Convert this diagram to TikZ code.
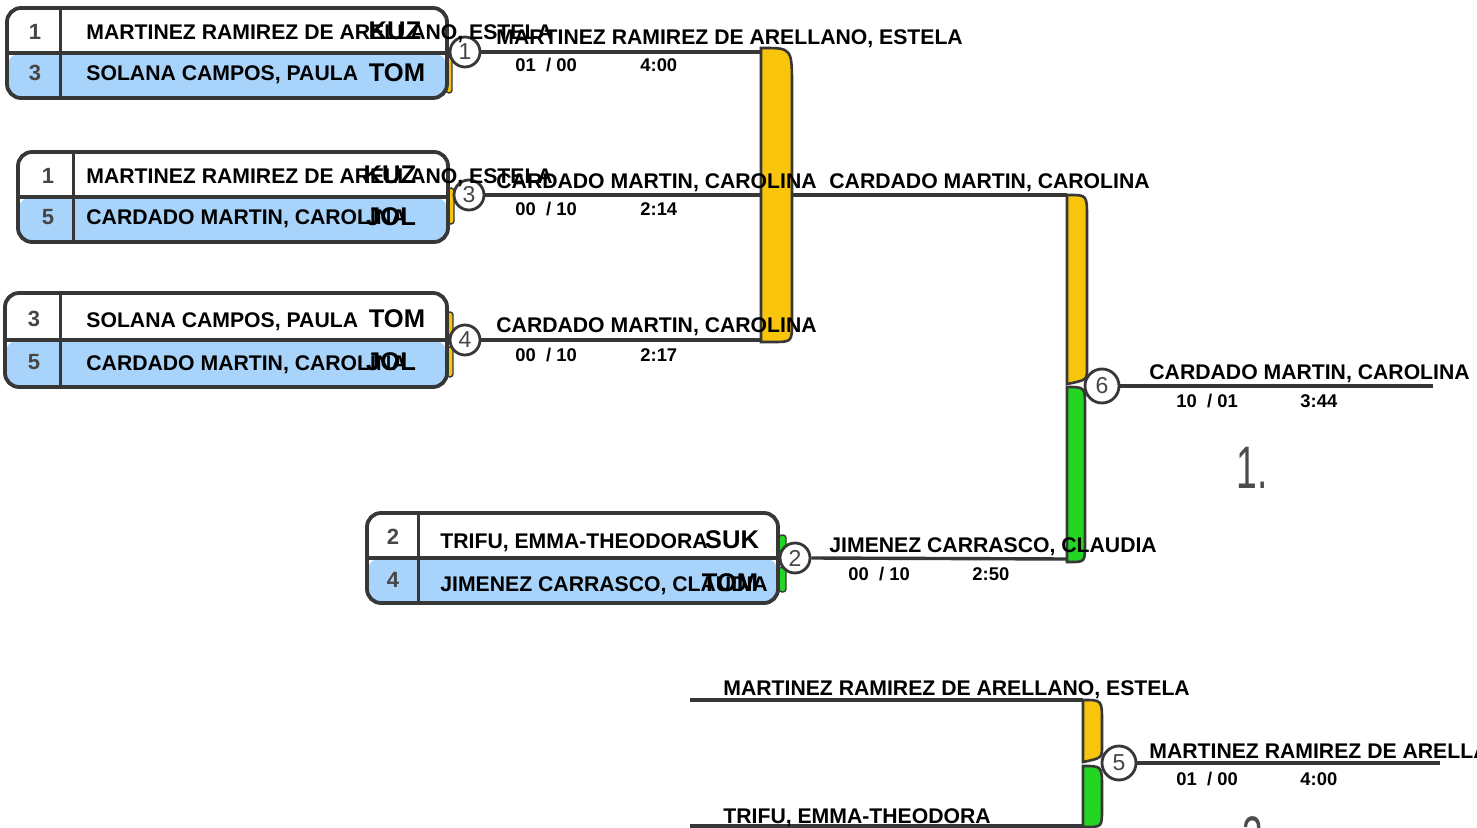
\documentclass[tikz,border=0pt]{standalone}
\usepackage{fontspec}
\setmainfont{Liberation Sans}
\newfontfamily\thinfont[FakeStretch=0.62]{Liberation Sans}
\usetikzlibrary{positioning, backgrounds}
\definecolor{lineclr}{RGB}{55,55,55}
\definecolor{rowblue}{RGB}{168,211,250}
\definecolor{winyellow}{RGB}{248,196,12}
\definecolor{wingreen}{RGB}{34,214,34}
\definecolor{seedgray}{RGB}{70,70,70}

\begin{document}
\begin{tikzpicture}[x=0.5pt, y=-0.5pt,
  matchbox/.style={draw=lineclr, line width=1.9pt, rounded corners=7pt, fill=white,
                   inner sep=0pt, minimum height=45pt,
                   path picture={\fill[rowblue] (path picture bounding box.west)
                     rectangle (path picture bounding box.south east);}},
  rowline/.style={draw=lineclr, line width=1.6pt},
  conn/.style={draw=lineclr, line width=1.7pt},
  barfill/.style={draw=lineclr, line width=1.3pt},
  tab/.style={draw=lineclr, line width=0.7pt, rounded corners=1.5pt},
  bout/.style={circle, draw=lineclr, line width=1.4pt, fill=white, minimum size=15pt,
               inner sep=0pt, font=\fontsize{11.5}{12}\selectfont, text=seedgray},
  seed/.style={font=\bfseries\fontsize{11}{12}\selectfont, text=seedgray,
               inner sep=0pt, text height=7.8pt, text depth=0pt},
  pname/.style={font=\bfseries\fontsize{10.6}{12}\selectfont, inner sep=0pt,
                text height=7.6pt, text depth=0pt, anchor=west},
  club/.style={font=\bfseries\fontsize{12.8}{14}\selectfont, inner sep=0pt,
               text height=9.2pt, text depth=0pt},
  score/.style={font=\bfseries\fontsize{9.2}{11}\selectfont, inner sep=0pt,
                text height=6.6pt, text depth=0pt, anchor=west},
  rank/.style={font=\thinfont\fontsize{30}{32}\selectfont, text=black!70, inner sep=0pt}
]
  \path[use as bounding box] (0,0) rectangle (1477,828);
  % Bout circles
  \node[bout] (m1) at (465,52) {1};
  \node[bout] (m3) at (469,195) {3};
  \node[bout] (m4) at (465,340) {4};
  \node[bout] (m2) at (795,558) {2};
  \node[bout, minimum size=17pt] (m6) at (1102,386) {6};
  \node[bout, minimum size=17pt] (m5) at (1119,763) {5};
  % Joints on the bars
  \coordinate (j1) at (761,52);
  \coordinate (j4) at (761,340);
  \coordinate (j3) at (1067,195);
  \coordinate (j2) at (1067,559);
  \coordinate (out6) at (1433,386);
  \coordinate (out5) at (1440,763);
  \coordinate (in5a) at (690,700);
  \coordinate (j5a) at (1083,700);
  \coordinate (in5b) at (690,826);
  \coordinate (j5b) at (1083,826);

  \begin{scope}[on background layer]
    \fill[white] (0,0) rectangle (1477,828);
    % Connectors
    \draw[conn] (m1.east) -- (j1);
    \draw[conn] (m3.east) -- (j3);
    \draw[conn] (m4.east) -- (j4);
    \draw[conn] (m2.east) -- (j2);
    \draw[conn] (m6.east) -- (out6);
    \draw[conn] (m5.east) -- (out5);
    \draw[conn] (in5a) -- (j5a);
    \draw[conn] (in5b) -- (j5b);
    % Winner bars
    \filldraw[barfill, fill=winyellow] (761,342) -- (761,48) -- (763,48)
      .. controls (792,48) .. (792,88) -- (792,322) .. controls (792,342) .. (772,342) -- cycle;
    \filldraw[barfill, fill=winyellow] (1067,384) -- (1067,195) -- (1069,195)
      .. controls (1087,195) .. (1087,218) -- (1087,368) .. controls (1087,380) .. (1067,384) -- cycle;
    \filldraw[barfill, fill=wingreen] (1067,387) .. controls (1085,387) .. (1085,408)
      -- (1085,544) .. controls (1085,562) .. (1070,562) -- (1067,562) -- cycle;
    \filldraw[barfill, fill=winyellow] (1083,762) -- (1083,700) .. controls (1102,700) .. (1102,722)
      -- (1102,746) .. controls (1102,758) .. (1083,762) -- cycle;
    \filldraw[barfill, fill=wingreen] (1083,766) .. controls (1102,766) .. (1102,788)
      -- (1102,808) .. controls (1102,827) .. (1086,827) -- (1083,827) -- cycle;
    % Tabs beside the boxes
    \filldraw[tab, fill=winyellow] (446,57) rectangle (452,93);
    \filldraw[tab, fill=winyellow] (448,188) rectangle (454,224);
    \filldraw[tab, fill=winyellow] (447,312) rectangle (453,335);
    \filldraw[tab, fill=winyellow] (447,347) rectangle (453,377);
    \filldraw[tab, fill=wingreen] (779,535) rectangle (786,560);
    \filldraw[tab, fill=wingreen] (779,567) rectangle (786,592);
  \end{scope}

  % Pairing boxes
  \node[matchbox, minimum width=220pt] (box1) at (227,53) {};
  \node[matchbox, minimum width=215pt] (box2) at (233,197) {};
  \node[matchbox, minimum width=221pt, minimum height=47pt] (box3) at (226,340) {};
  \node[matchbox, minimum width=205.5pt] (box4) at (572.5,558) {};
  \foreach \b/\c in {box1/27.5, box2/28.5, box3/28.5, box4/26.5} {
    \draw[rowline] (\b.west) -- (\b.east);
    \draw[rowline] ([xshift=\c pt]\b.north west) -- ([xshift=\c pt]\b.south west);
  }

  % Seeds
  \foreach \s/\x/\y/\t in {s1a/35/32/1, s1b/35/73/3, s2a/48/176/1, s2b/48/217/5,
                          s3a/34/319/3, s3b/34/362/5, s4a/393/537/2, s4b/393/580/4}
    \node[seed] (\s) at (\x,\y) {\t};

  % Names and clubs in the boxes
  \node[pname] (n1a) at (86,32) {MARTINEZ RAMIREZ DE ARELLANO, ESTELA};
  \node[club] (c1a) at (395,30) {KUZ};
  \node[pname] (n1b) at (86,73) {SOLANA CAMPOS, PAULA};
  \node[club] (c1b) at (397,72) {TOM};
  \node[pname] (n2a) at (86,176) {MARTINEZ RAMIREZ DE ARELLANO, ESTELA};
  \node[club] (c2a) at (390,174) {KUZ};
  \node[pname] (n2b) at (86,217) {CARDADO MARTIN, CAROLINA};
  \node[club] (c2b) at (391,216) {JOL};
  \node[pname] (n3a) at (86,320) {SOLANA CAMPOS, PAULA};
  \node[club] (c3a) at (397,318) {TOM};
  \node[pname] (n3b) at (86,363) {CARDADO MARTIN, CAROLINA};
  \node[club] (c3b) at (391,361) {JOL};
  \node[pname] (n4a) at (440,541) {TRIFU, EMMA-THEODORA};
  \node[club] (c4a) at (732,539) {SUK};
  \node[pname] (n4b) at (440,584) {JIMENEZ CARRASCO, CLAUDIA};
  \node[club] (c4b) at (730,582) {TOM};

  % Winners and results
  \node[pname] (w1) at (496,37) {MARTINEZ RAMIREZ DE ARELLANO, ESTELA};
  \node[score] (r1) at (515,65) {01~~/ 00};
  \node[score] (t1) at (640,65) {4:00};
  \node[pname] (w3) at (496,181) {CARDADO MARTIN, CAROLINA};
  \node[score] (r3) at (515,209) {00~~/ 10};
  \node[score] (t3) at (640,209) {2:14};
  \node[pname] (w4) at (496,325) {CARDADO MARTIN, CAROLINA};
  \node[score] (r4) at (515,355) {00~~/ 10};
  \node[score] (t4) at (640,355) {2:17};
  \node[pname] (f3) at (829,181) {CARDADO MARTIN, CAROLINA};
  \node[pname] (w2) at (829,545) {JIMENEZ CARRASCO, CLAUDIA};
  \node[score] (r2) at (848,574) {00~~/ 10};
  \node[score] (t2) at (972,574) {2:50};
  \node[pname] (w6) at (1149,372) {CARDADO MARTIN, CAROLINA};
  \node[score] (r6) at (1176,401) {10~~/ 01};
  \node[score] (t6) at (1300,401) {3:44};
  \node[pname] (f5a) at (723,688) {MARTINEZ RAMIREZ DE ARELLANO, ESTELA};
  \node[pname] (f5b) at (723,816) {TRIFU, EMMA-THEODORA};
  \node[pname] (w5) at (1149,751) {MARTINEZ RAMIREZ DE ARELLANO, ESTELA};
  \node[score] (r5) at (1176,779) {01~~/ 00};
  \node[score] (t5) at (1300,779) {4:00};

  % Places
  \node[rank] (first) at (1252,468) {1.};
  \node[rank] (third) at (1258,838) {3.};
\end{tikzpicture}
\end{document}
